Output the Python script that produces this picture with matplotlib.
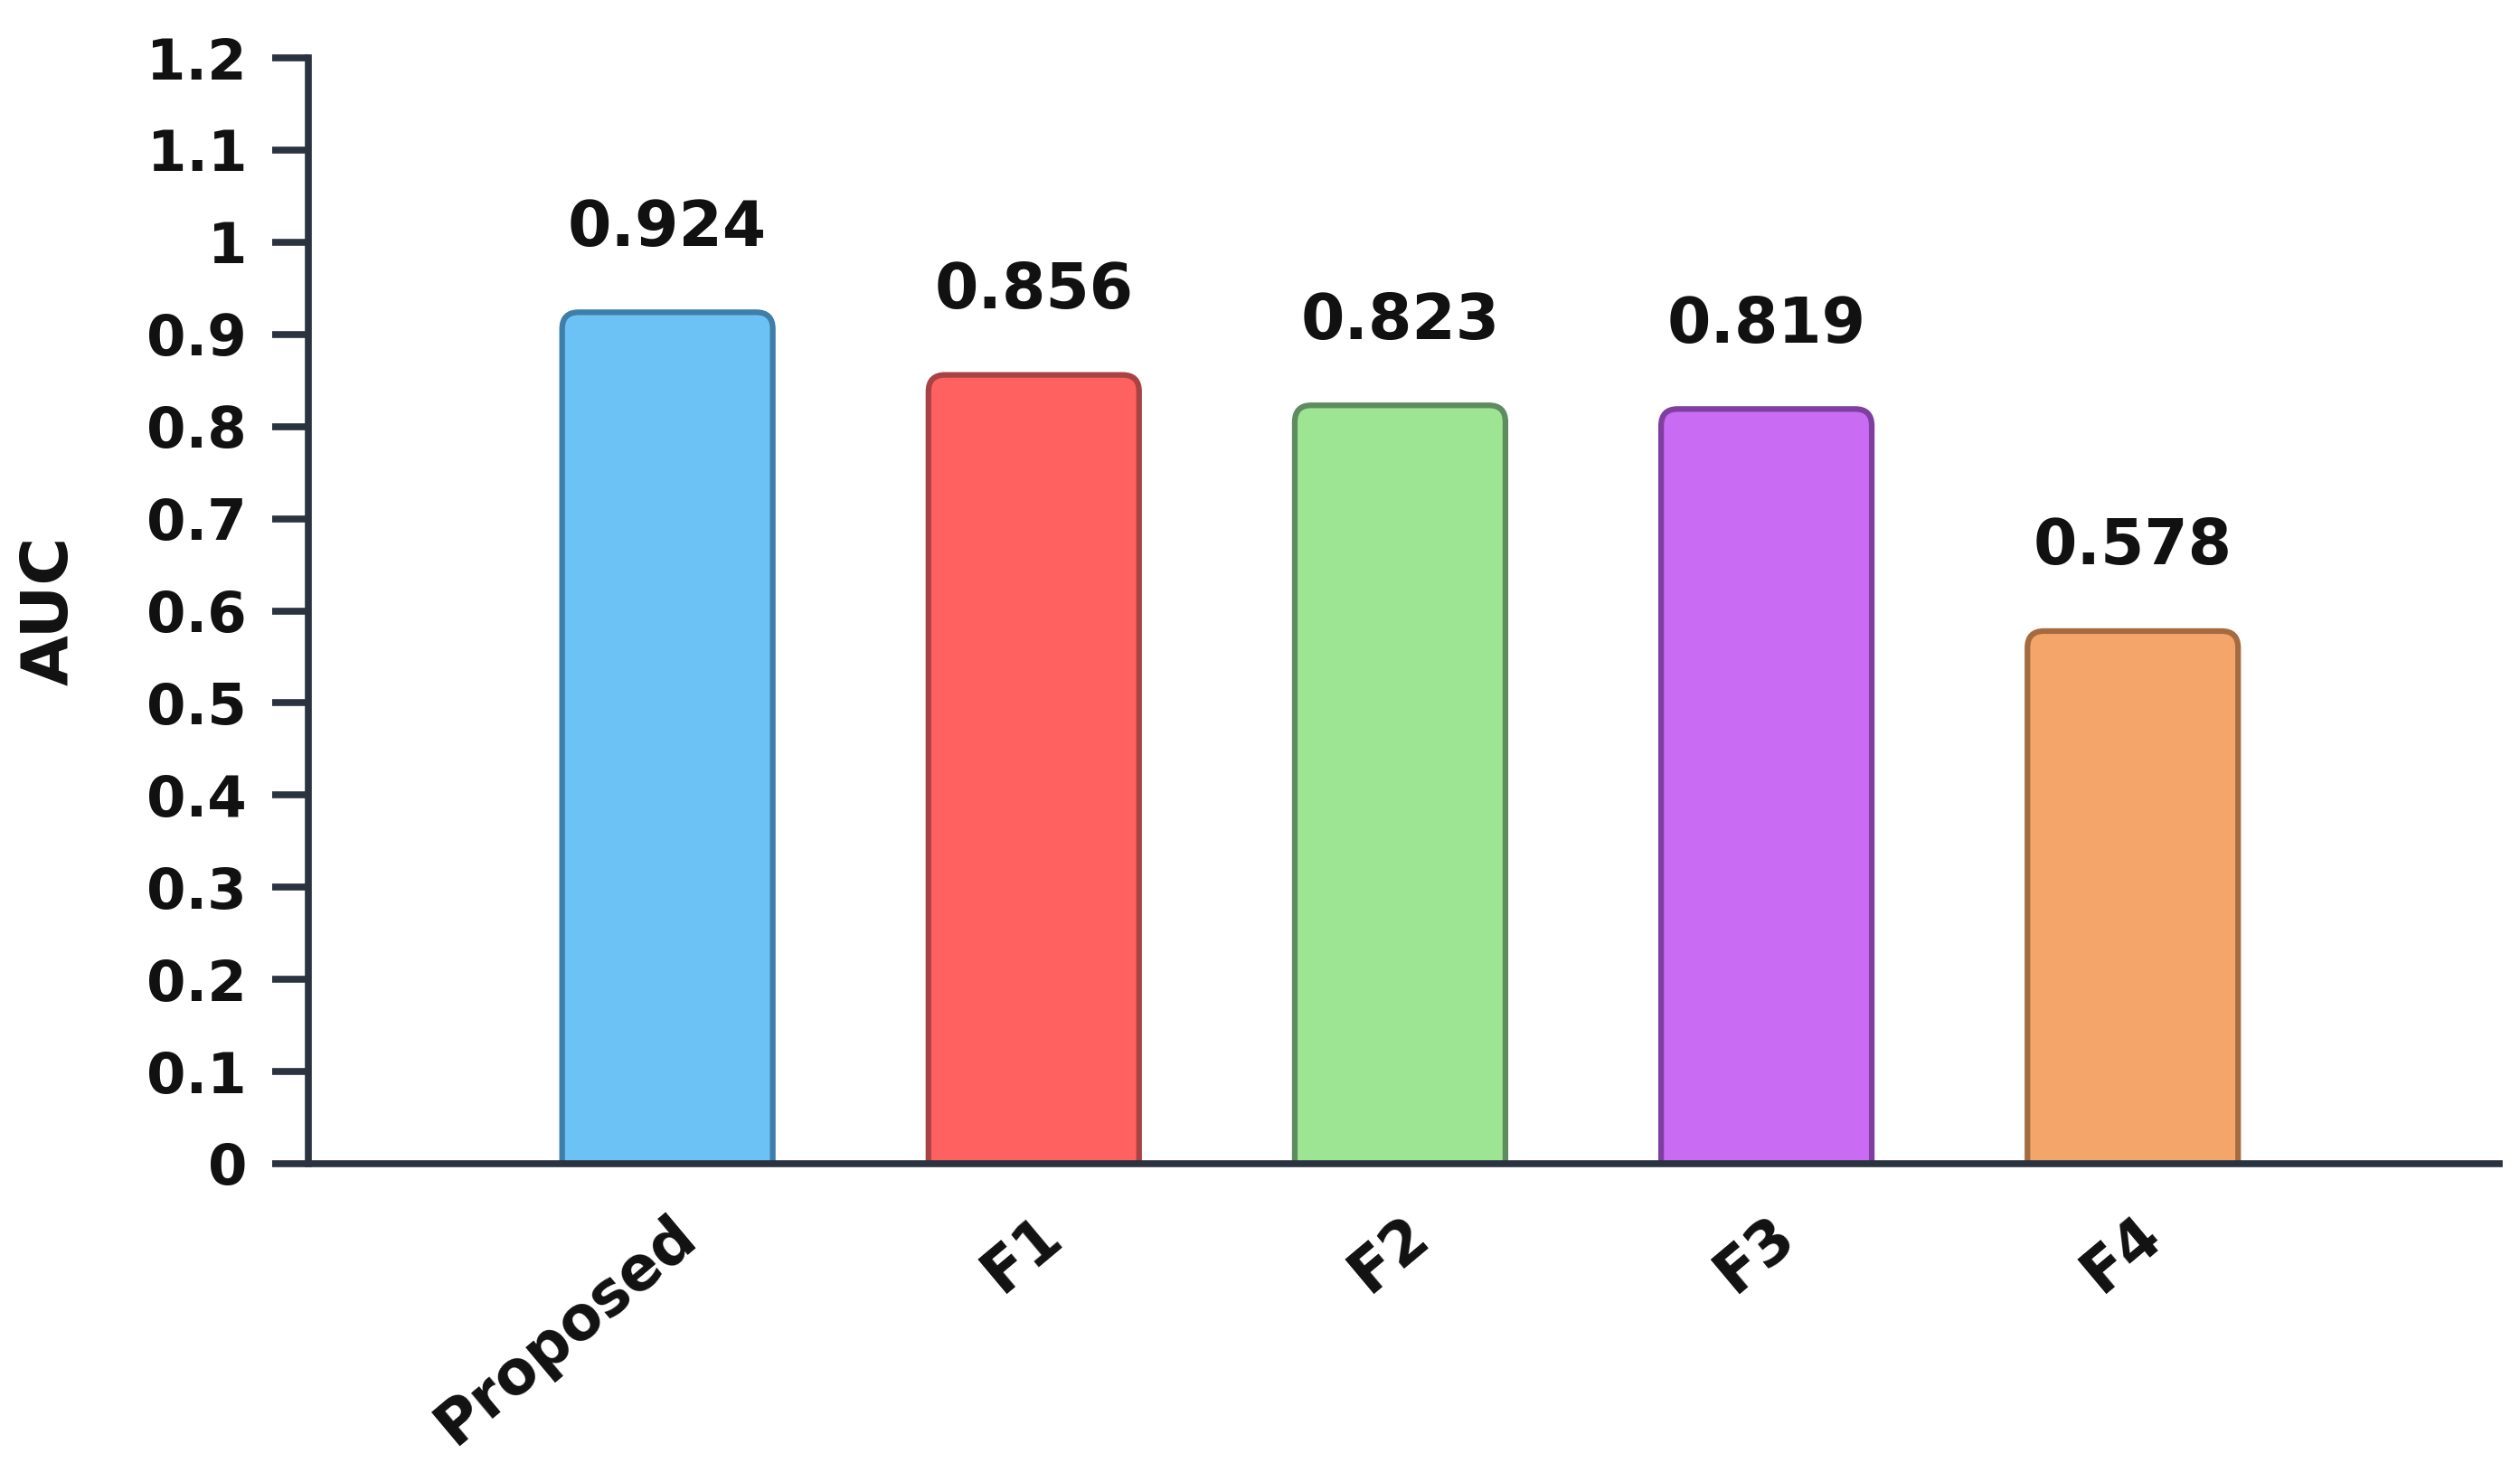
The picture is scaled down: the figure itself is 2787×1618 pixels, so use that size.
import matplotlib
matplotlib.use("Agg")
import matplotlib.pyplot as plt
from matplotlib.patches import FancyBboxPatch
from matplotlib.transforms import ScaledTranslation

categories = ["Proposed", "F1", "F2", "F3", "F4"]
auc_values = [0.924, 0.856, 0.823, 0.819, 0.578]
value_labels = ["0.924", "0.856", "0.823", "0.819", "0.578"]
y_ticks = [0, 0.1, 0.2, 0.3, 0.4, 0.5, 0.6, 0.7, 0.8, 0.9, 1.0, 1.1, 1.2]
y_tick_labels = ["0", "0.1", "0.2", "0.3", "0.4", "0.5", "0.6", "0.7", "0.8", "0.9", "1", "1.1", "1.2"]
fill_colors = ["#6CC1F5", "#FF6161", "#9DE593", "#C96BF3", "#F4A56A"]
edge_colors = ["#3F7EA8", "#A94343", "#5E8C5E", "#7F3FA0", "#A56B40"]

plt.rcParams['font.family'] = ['DejaVu Sans']
DPI = 100
fig = plt.figure(figsize=(27.87, 16.18), dpi=DPI)
ax = fig.add_axes([0.1224, 0.2046, 0.9917 - 0.1224, 0.9604 - 0.2046])

x = list(range(len(categories)))
bars = ax.bar(x, auc_values, width=0.575, color=fill_colors, edgecolor=edge_colors, linewidth=4.5)

ax.set_xlim(-0.98, 5.0)
ax.set_ylim(0, 1.2)

# rounded tops
for b, fc, ec in zip(bars, fill_colors, edge_colors):
    b.set_visible(False)
    r = FancyBboxPatch((b.get_x(), -0.05), b.get_width(), b.get_height() + 0.05,
                       boxstyle="round,pad=0,rounding_size=0.045", mutation_aspect=0.4,
                       facecolor=fc, edgecolor=ec, linewidth=4.5, zorder=2)
    ax.add_patch(r)

for xi, v, lab in zip(x, auc_values, value_labels):
    ax.annotate(lab, (xi, v), xytext=(0, 43), textcoords='offset points',
                ha='center', va='bottom', fontsize=50, fontweight='bold', color='#111111')

axis_color = '#2B3340'
for s in ['top', 'right']:
    ax.spines[s].set_visible(False)
for s in ['left', 'bottom']:
    ax.spines[s].set_color(axis_color)
    ax.spines[s].set_linewidth(5.5)
    ax.spines[s].set_zorder(3)

ax.set_yticks(y_ticks)
ax.set_yticklabels(y_tick_labels, fontsize=45, fontweight='bold', color='#111111')
ax.tick_params(axis='y', length=29, width=5.5, color=axis_color, pad=20)

ax.set_xticks(x)
ax.set_xticklabels(categories, fontsize=48, fontweight='bold', color='#111111',
                   rotation=40, ha='right', va='top', rotation_mode='anchor')
ax.tick_params(axis='x', length=0, pad=0)
off = ScaledTranslation(2 / DPI, -45 / DPI, fig.dpi_scale_trans)
for t in ax.get_xticklabels():
    t.set_transform(t.get_transform() + off)

ax.set_ylabel("AUC", fontsize=52, fontweight='bold', color='#111111')
ax.yaxis.set_label_coords(-0.104, 0.5)

fig.savefig("out.png", dpi=DPI, facecolor='white')
